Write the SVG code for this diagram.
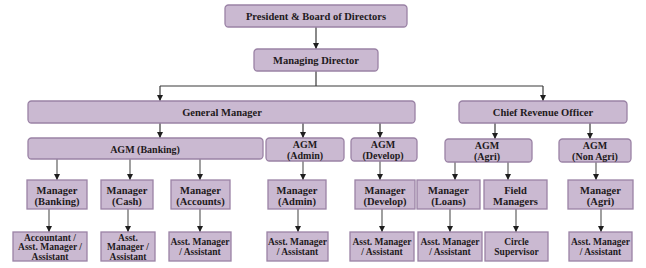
<svg xmlns="http://www.w3.org/2000/svg" width="646" height="268" viewBox="0 0 646 268">
<style>
.bx{fill:#cab9d1;stroke:#9a82a5;stroke-width:1.3}
.t{font-family:"Liberation Serif","Times New Roman",serif;font-weight:bold;fill:#1e1a20;text-anchor:middle}
.l{font-size:10.5px}
.s{font-size:10px}
.x{font-size:9.5px}
.c{stroke:#3a3a3a;stroke-width:1.2;fill:none}
.g{stroke:#606060}
</style>
<defs>
<marker id="ah" markerUnits="userSpaceOnUse" markerWidth="7" markerHeight="7" refX="6" refY="3" orient="auto">
<path d="M0,0 L6,3 L0,6 z" fill="#1e1e1e"/>
</marker>
</defs>
<rect width="646" height="268" fill="#ffffff"/>
<g id="connectors">
<path class="c" d="M316,27 V49" marker-end="url(#ah)"/>
<path class="c" d="M316,71 V86 M160,86 H543"/>
<path class="c" d="M160,86 V101" marker-end="url(#ah)"/>
<path class="c" d="M543,86 V101" marker-end="url(#ah)"/>
<path class="c" d="M160,123 V138" marker-end="url(#ah)"/>
<path class="c" d="M303,123 V138" marker-end="url(#ah)"/>
<path class="c" d="M380,123 V138" marker-end="url(#ah)"/>
<path class="c" d="M495,123 V139" marker-end="url(#ah)"/>
<path class="c" d="M590,123 V139" marker-end="url(#ah)"/>
<path class="c g" d="M57,159 V180" marker-end="url(#ah)"/>
<path class="c g" d="M130,159 V180" marker-end="url(#ah)"/>
<path class="c g" d="M200,159 V180" marker-end="url(#ah)"/>
<path class="c g" d="M303,161 V180" marker-end="url(#ah)"/>
<path class="c g" d="M380,161 V180" marker-end="url(#ah)"/>
<path class="c g" d="M455,162 V180" marker-end="url(#ah)"/>
<path class="c g" d="M508,162 V180" marker-end="url(#ah)"/>
<path class="c g" d="M596,162 V180" marker-end="url(#ah)"/>
<path class="c g" d="M49,209 V232" marker-end="url(#ah)"/>
<path class="c g" d="M128,209 V232" marker-end="url(#ah)"/>
<path class="c g" d="M200,209 V232" marker-end="url(#ah)"/>
<path class="c g" d="M298,209 V232" marker-end="url(#ah)"/>
<path class="c g" d="M382,209 V232" marker-end="url(#ah)"/>
<path class="c g" d="M450,209 V232" marker-end="url(#ah)"/>
<path class="c g" d="M516,209 V232" marker-end="url(#ah)"/>
<path class="c g" d="M601,209 V232" marker-end="url(#ah)"/>
</g>
<g id="president"><rect class="bx" x="225" y="5" width="182" height="22" rx="3.5"/><text class="t l" x="316" y="20">President &amp; Board of Directors</text></g>
<g id="md"><rect class="bx" x="254" y="49" width="124" height="22" rx="3.5"/><text class="t l" x="316" y="64">Managing Director</text></g>
<g id="gm"><rect class="bx" x="28" y="101" width="387" height="22" rx="3.5"/><text class="t l" x="222" y="116">General Manager</text></g>
<g id="cro"><rect class="bx" x="459" y="101" width="168" height="22" rx="3.5"/><text class="t l" x="543" y="116">Chief Revenue Officer</text></g>
<g id="agm-banking"><rect class="bx" x="28" y="138" width="235" height="21" rx="3.5"/><text class="t s" x="145" y="152.5">AGM (Banking)</text></g>
<g id="agm-admin"><rect class="bx" x="266" y="138" width="78" height="23" rx="3.5"/><text class="t s" x="305" y="148">AGM</text><text class="t s" x="305" y="158.5">(Admin)</text></g>
<g id="agm-develop"><rect class="bx" x="351" y="138" width="66" height="23" rx="3.5"/><text class="t s" x="383" y="148">AGM</text><text class="t s" x="383" y="158.5">(Develop)</text></g>
<g id="agm-agri"><rect class="bx" x="445" y="139" width="87" height="23" rx="3.5"/><text class="t s" x="487" y="149">AGM</text><text class="t s" x="487" y="159.5">(Agri)</text></g>
<g id="agm-nonagri"><rect class="bx" x="559" y="139" width="72" height="23" rx="3.5"/><text class="t s" x="595" y="149">AGM</text><text class="t s" x="595" y="159.5">(Non Agri)</text></g>
<g id="mgr-banking"><rect class="bx" x="27" y="180" width="60" height="29"/><text class="t l" x="57" y="194">Manager</text><text class="t l" x="57" y="205">(Banking)</text></g>
<g id="mgr-cash"><rect class="bx" x="101" y="180" width="52" height="29"/><text class="t l" x="127" y="194">Manager</text><text class="t l" x="127" y="205">(Cash)</text></g>
<g id="mgr-accounts"><rect class="bx" x="171" y="180" width="59" height="29"/><text class="t l" x="200.5" y="194">Manager</text><text class="t l" x="200.5" y="205">(Accounts)</text></g>
<g id="mgr-admin"><rect class="bx" x="268" y="180" width="58" height="29"/><text class="t l" x="297" y="194">Manager</text><text class="t l" x="297" y="205">(Admin)</text></g>
<g id="mgr-develop"><rect class="bx" x="355" y="180" width="60" height="29"/><text class="t l" x="385" y="194">Manager</text><text class="t l" x="385" y="205">(Develop)</text></g>
<g id="mgr-loans"><rect class="bx" x="417" y="180" width="63" height="29"/><text class="t l" x="448.5" y="194">Manager</text><text class="t l" x="448.5" y="205">(Loans)</text></g>
<g id="field-managers"><rect class="bx" x="484" y="180" width="63" height="29"/><text class="t l" x="515.5" y="194">Field</text><text class="t l" x="515.5" y="205">Managers</text></g>
<g id="mgr-agri"><rect class="bx" x="568" y="180" width="65" height="29"/><text class="t l" x="600.5" y="194">Manager</text><text class="t l" x="600.5" y="205">(Agri)</text></g>
<g id="asst-banking"><rect class="bx" x="13" y="232" width="74" height="29"/><text class="t x" x="50" y="240.5">Accountant /</text><text class="t x" x="50" y="250">Asst. Manager /</text><text class="t x" x="50" y="259.5">Assistant</text></g>
<g id="asst-cash"><rect class="bx" x="101" y="232" width="54" height="29"/><text class="t x" x="128" y="240.5">Asst.</text><text class="t x" x="128" y="250">Manager /</text><text class="t x" x="128" y="259.5">Assistant</text></g>
<g id="asst-accounts"><rect class="bx" x="169" y="232" width="62" height="29"/><text class="t x" x="200" y="245">Asst. Manager</text><text class="t x" x="200" y="255">/ Assistant</text></g>
<g id="asst-admin"><rect class="bx" x="267" y="232" width="61" height="29"/><text class="t x" x="297.5" y="245">Asst. Manager</text><text class="t x" x="297.5" y="255">/ Assistant</text></g>
<g id="asst-develop"><rect class="bx" x="350" y="232" width="64" height="29"/><text class="t x" x="382" y="245">Asst. Manager</text><text class="t x" x="382" y="255">/ Assistant</text></g>
<g id="asst-loans"><rect class="bx" x="418" y="232" width="64" height="29"/><text class="t x" x="450" y="245">Asst. Manager</text><text class="t x" x="450" y="255">/ Assistant</text></g>
<g id="circle-supervisor"><rect class="bx" x="485" y="232" width="63" height="29"/><text class="t x" x="516.5" y="245">Circle</text><text class="t x" x="516.5" y="255">Supervisor</text></g>
<g id="asst-agri"><rect class="bx" x="569" y="232" width="63" height="29"/><text class="t x" x="600.5" y="245">Asst. Manager</text><text class="t x" x="600.5" y="255">/ Assistant</text></g>
</svg>
